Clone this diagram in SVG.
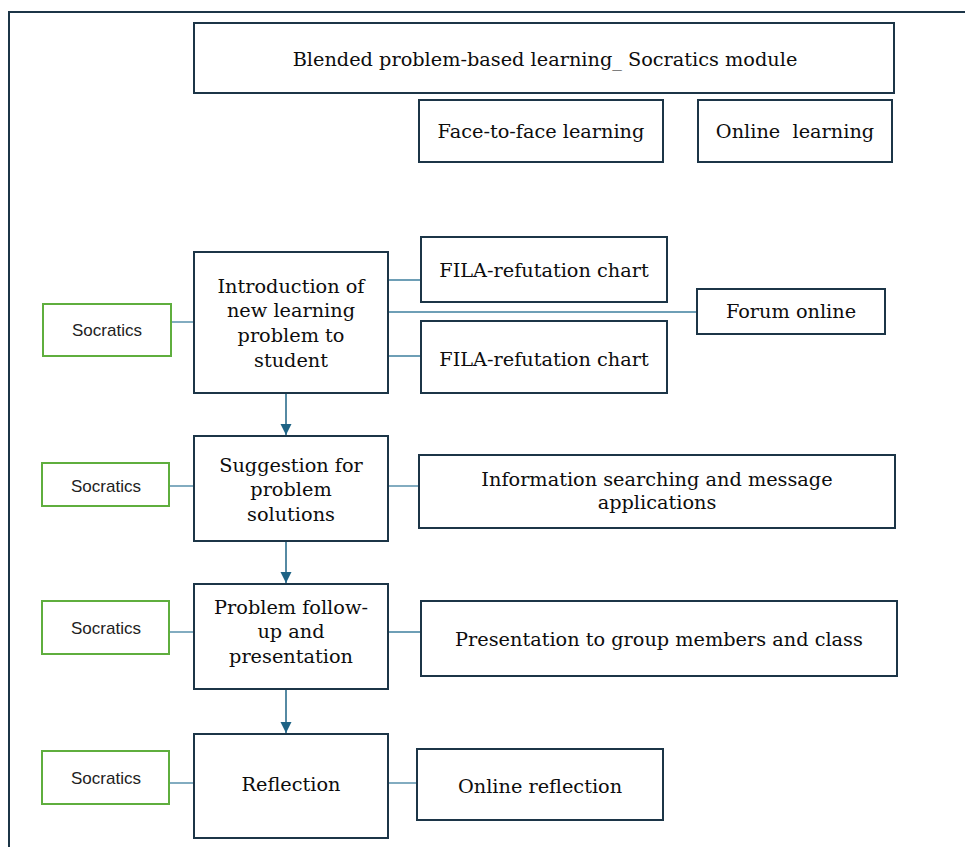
<svg xmlns="http://www.w3.org/2000/svg" width="965" height="847" viewBox="0 0 965 847">
<style>
.box{fill:#fff;stroke:#1c3547;stroke-width:2}
.soc{fill:#fff;stroke:#5fae3e;stroke-width:2}
.t{font-family:"DejaVu Serif","Liberation Serif",serif;font-size:19.3px;fill:#0d0d0d;text-anchor:middle}
.s{font-family:"Liberation Sans",Arial,sans-serif;font-size:17px;fill:#222;text-anchor:middle}
.ln{stroke:#3e7f9e;stroke-width:1.3;fill:none}
.ar{stroke:#1e6385;stroke-width:1.5;fill:none}
</style>
<defs>
<marker id="ah" viewBox="0 0 10 10" refX="10" refY="5" markerWidth="11" markerHeight="14" markerUnits="userSpaceOnUse" orient="auto">
<path d="M0,0 L10,5 L0,10 z" fill="#1e6385"/>
</marker>
</defs>
<rect width="965" height="847" fill="#fff"/>
<path d="M9,847 V12 H965" fill="none" stroke="#1c3547" stroke-width="2"/>

<g id="connectors">
<line class="ln" x1="171" y1="322" x2="194" y2="322"/>
<line class="ln" x1="388" y1="280" x2="421" y2="280"/>
<line class="ln" x1="388" y1="312" x2="697" y2="312"/>
<line class="ln" x1="388" y1="356" x2="421" y2="356"/>
<line class="ln" x1="169" y1="486" x2="194" y2="486"/>
<line class="ln" x1="388" y1="486" x2="419" y2="486"/>
<line class="ln" x1="169" y1="632" x2="194" y2="632"/>
<line class="ln" x1="388" y1="632" x2="421" y2="632"/>
<line class="ln" x1="169" y1="783" x2="194" y2="783"/>
<line class="ln" x1="388" y1="783" x2="417" y2="783"/>
<line class="ar" x1="286" y1="394" x2="286" y2="435" marker-end="url(#ah)"/>
<line class="ar" x1="286" y1="542" x2="286" y2="583" marker-end="url(#ah)"/>
<line class="ar" x1="286" y1="690" x2="286" y2="733" marker-end="url(#ah)"/>
</g>

<g id="title"><rect class="box" x="194" y="23" width="700" height="70"/><text class="t" x="545" y="66">Blended problem-based learning_ Socratics module</text></g>
<g id="f2f"><rect class="box" x="419" y="100" width="244" height="62"/><text class="t" x="541" y="138">Face-to-face learning</text></g>
<g id="online"><rect class="box" x="698" y="100" width="194" height="62"/><text class="t" x="795" y="138" xml:space="preserve">Online  learning</text></g>

<g id="intro"><rect class="box" x="194" y="252" width="194" height="141"/>
<text class="t" x="291" y="293">Introduction of</text>
<text class="t" x="291" y="317">new learning</text>
<text class="t" x="291" y="342">problem to</text>
<text class="t" x="291" y="367">student</text></g>
<g id="soc1"><rect class="soc" x="43" y="304" width="128" height="52"/><text class="s" x="107" y="336">Socratics</text></g>
<g id="fila1"><rect class="box" x="421" y="237" width="246" height="65"/><text class="t" x="544" y="277">FILA-refutation chart</text></g>
<g id="forum"><rect class="box" x="697" y="289" width="188" height="45"/><text class="t" x="791" y="318">Forum online</text></g>
<g id="fila2"><rect class="box" x="421" y="321" width="246" height="72"/><text class="t" x="544" y="366">FILA-refutation chart</text></g>

<g id="suggestion"><rect class="box" x="194" y="436" width="194" height="105"/>
<text class="t" x="291" y="472">Suggestion for</text>
<text class="t" x="291" y="496">problem</text>
<text class="t" x="291" y="521">solutions</text></g>
<g id="soc2"><rect class="soc" x="42" y="463" width="127" height="43"/><text class="s" x="106" y="492">Socratics</text></g>
<g id="info"><rect class="box" x="419" y="455" width="476" height="73"/>
<text class="t" x="657" y="486">Information searching and message</text>
<text class="t" x="657" y="509">applications</text></g>

<g id="followup"><rect class="box" x="194" y="584" width="194" height="105"/>
<text class="t" x="291" y="614">Problem follow-</text>
<text class="t" x="291" y="638">up and</text>
<text class="t" x="291" y="663">presentation</text></g>
<g id="soc3"><rect class="soc" x="42" y="601" width="127" height="53"/><text class="s" x="106" y="634">Socratics</text></g>
<g id="presentation"><rect class="box" x="421" y="601" width="476" height="75"/><text class="t" x="659" y="646">Presentation to group members and class</text></g>

<g id="reflection"><rect class="box" x="194" y="734" width="194" height="104"/><text class="t" x="291" y="791">Reflection</text></g>
<g id="soc4"><rect class="soc" x="42" y="751" width="127" height="53"/><text class="s" x="106" y="784">Socratics</text></g>
<g id="onlinerefl"><rect class="box" x="417" y="749" width="246" height="71"/><text class="t" x="540" y="793">Online reflection</text></g>
</svg>
